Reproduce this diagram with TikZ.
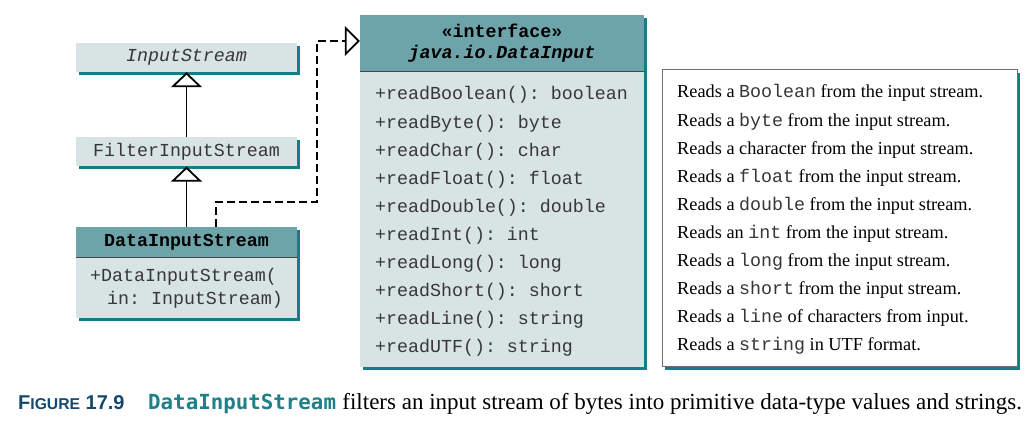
\documentclass[tikz,border=0pt]{standalone}
\usepackage{fontspec}
\setmainfont{Liberation Serif}
\setmonofont{Liberation Mono}
\newfontfamily\capsans{Liberation Sans}
\newfontfamily\capmono{DejaVu Sans Mono}
\usetikzlibrary{positioning,shadows,arrows.meta}

\definecolor{headteal}{RGB}{108,164,170}
\definecolor{bodyteal}{RGB}{216,227,227}
\definecolor{shadeteal}{RGB}{22,124,134}
\definecolor{sepgray}{RGB}{70,70,70}
\definecolor{descgray}{RGB}{110,110,110}
\definecolor{monogray}{RGB}{55,55,55}
\definecolor{capblue}{RGB}{22,72,110}
\definecolor{capteal}{RGB}{30,128,136}

\begin{document}
\begin{tikzpicture}[x=1pt,y=-1pt]
	\useasboundingbox (0,0) rectangle (1033,435);

		\tikzstyle{tealshadow}=[drop shadow={shadow xshift=3pt,shadow yshift=-3pt,
			fill=shadeteal,opacity=1}]
		\tikzstyle{cls}=[rectangle,
			fill=bodyteal,draw=none,tealshadow,
			minimum width=221pt,minimum height=29pt,
			node distance=60pt,
			align=center,inner sep=0pt,text=monogray,
			font=\fontsize{18.3}{22}\ttfamily]
		\tikzstyle{clshead}=[cls,fill=headteal,text=black,
			minimum height=31pt,
			font=\fontsize{18.3}{21}\ttfamily\bfseries]
		\tikzstyle{method}=[anchor=base west,inner sep=0pt,text=monogray,
			font=\fontsize{18.3}{22}\ttfamily]
		\tikzstyle{descr}=[anchor=base west,inner sep=0pt,
			font=\fontsize{18.3}{22}\selectfont]
		\tikzstyle{sepline}=[draw=sepgray,line width=1pt]
		\tikzstyle{inherit}=[-{Triangle[open,length=15pt,width=31pt,fill=white]},
			draw=black,line width=1.8pt]
		\tikzstyle{realize}=[-{Triangle[open,length=15pt,width=30pt,fill=white]},
			draw=black,line width=1.8pt,dash pattern=on 8pt off 4pt]

		% class hierarchy
		\node[cls,font=\fontsize{18.3}{22}\ttfamily\itshape]	(is)	at (186.5,57.5)	{InputStream};
		\node[cls,below=65pt of is]	(fis)	{FilterInputStream};
		\node[clshead,below=of fis]	(dis)	{DataInputStream};
		\node[cls,below=0pt of dis,minimum height=60pt,
			font=\fontsize{18.3}{23}\ttfamily,align=left]	(dis-b)
			{+DataInputStream(\\\hspace*{17pt}in: InputStream)};
		\draw[sepline]	(dis.south west)	--	(dis.south east);

		% interface
		\node[clshead,minimum width=284pt,minimum height=56pt]	(di)	at (502,43)
			{«interface»\\\itshape java.io.DataInput};
		\node[cls,below=0pt of di,minimum width=284pt,minimum height=296pt]	(di-b)	{};
		\draw[sepline]	(di.south west)	--	(di.south east);

		% descriptions
		\node[rectangle,draw=descgray,line width=1pt,fill=white,tealshadow,
			minimum width=355pt,minimum height=297pt]	(descbox)	at (839.5,218.5)	{};

		\foreach \m/\d [count=\i from 0] in {
			{+readBoolean(): boolean}/{Reads a \texttt{\color{monogray}Boolean} from the input stream.},
			{+readByte(): byte}/{Reads a \texttt{\color{monogray}byte} from the input stream.},
			{+readChar(): char}/{Reads a character from the input stream.},
			{+readFloat(): float}/{Reads a \texttt{\color{monogray}float} from the input stream.},
			{+readDouble(): double}/{Reads a \texttt{\color{monogray}double} from the input stream.},
			{+readInt(): int}/{Reads an \texttt{\color{monogray}int} from the input stream.},
			{+readLong(): long}/{Reads a \texttt{\color{monogray}long} from the input stream.},
			{+readShort(): short}/{Reads a \texttt{\color{monogray}short} from the input stream.},
			{+readLine(): string}/{Reads a \texttt{\color{monogray}line} of characters from input.},
			{+readUTF(): string}/{Reads a \texttt{\color{monogray}string} in UTF format.}}
		{
			\node[method]	(m\i)	at (375,{100+28.1*\i})	{\m};
			\node[descr]	(d\i)	at (677,{98+28.1*\i})	{\d};
		}

		% connectors
		\coordinate	(knee)	at (317,202);
		\draw[inherit]	(fis)	--	(is);
		\draw[inherit]	(dis)	--	(fis);
		\draw[realize]	([xshift=29.5pt]dis.north)	|-	(knee)	|-	([yshift=2pt]di.west);

		% caption
		\node[anchor=base west,inner sep=0pt,text=capblue,
			font=\capsans\bfseries\fontsize{20}{20}\selectfont]	(fig)	at (18,409)
			{F{\fontsize{15.7}{16}\selectfont IGURE} 17.9};
		\node[anchor=base west,inner sep=0pt,text=capteal,
			font=\capmono\bfseries\fontsize{20.8}{21}\selectfont]	(cname)	at (148,409)
			{DataInputStream};
		\node[anchor=base west,inner sep=0pt,
			font=\fontsize{23}{24}\selectfont]	(ctext)	at ([xshift=6pt]cname.base east)
			{filters an input stream of bytes into primitive data-type values and strings.};

\end{tikzpicture}
\end{document}
